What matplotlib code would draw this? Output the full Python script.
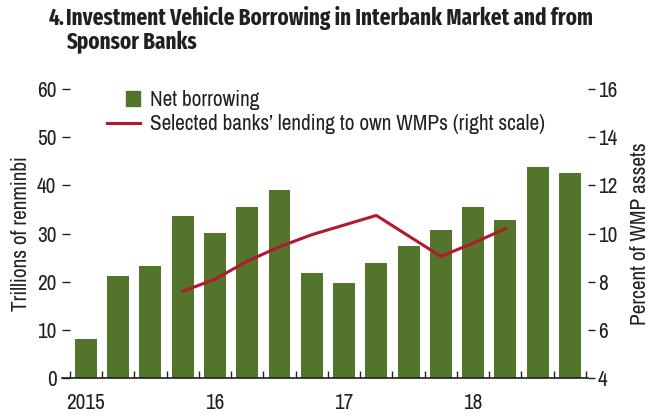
import numpy as np
import matplotlib
matplotlib.use("Agg")
import matplotlib.pyplot as plt
import matplotlib.patches as mpatches
from matplotlib.lines import Line2D
from matplotlib.legend_handler import HandlerPatch

# quarterly data, 2015Q1 - 2018Q4
quarters = ["2015Q1", "2015Q2", "2015Q3", "2015Q4",
            "2016Q1", "2016Q2", "2016Q3", "2016Q4",
            "2017Q1", "2017Q2", "2017Q3", "2017Q4",
            "2018Q1", "2018Q2", "2018Q3", "2018Q4"]
net_borrowing = [8.1, 21.2, 23.3, 33.7, 30.1, 35.5, 39.1, 21.8,
                 19.8, 23.9, 27.4, 30.8, 35.5, 32.8, 43.9, 42.6]
# right scale, percent of WMP assets (starts 2015Q4, ends 2018Q2)
lending_own_wmp = [np.nan, np.nan, np.nan, 7.6, 8.1, 8.85, 9.45, 9.95,
                   10.35, 10.75, 9.9, 9.05, 9.6, 10.2, np.nan, np.nan]
year_labels = ["2015", "16", "17", "18"]
year_pos = [0, 4, 8, 12]

plt.rcParams['font.family'] = ['Archivo Narrow', 'DejaVu Sans']
title_font = ['Fira Sans Extra Condensed', 'DejaVu Sans']
txt = "#231F20"
green = "#52742B"
red = "#B3192E"
fs = 15.3

fig = plt.figure(figsize=(6.56, 4.16), dpi=100)
ax = fig.add_axes([0.0945, 0.0913, 0.8018, 0.6948])
ax2 = ax.twinx()

x = np.arange(len(quarters))
ax.bar(x, net_borrowing, width=0.68, color=green, zorder=2)
ax2.plot(x, lending_own_wmp, color=red, lw=2.2, zorder=3)

ax.set_xlim(-0.74, 15.56)
ax.set_ylim(0, 60)
ax2.set_ylim(4, 16)
ax.set_yticks(range(0, 61, 10))
ax2.set_yticks(range(4, 17, 2))

for a in (ax, ax2):
    for s in ("top", "left", "right"):
        a.spines[s].set_visible(False)
ax2.spines["bottom"].set_visible(False)
ax.spines["bottom"].set_color(txt)
ax.spines["bottom"].set_linewidth(1.2)

ax.set_xticks(year_pos)
ax.set_xticklabels(year_labels)
ax.set_xticks(np.arange(-0.5, 16, 1), minor=True)
ax.tick_params(axis="x", which="major", length=0, pad=11, labelsize=fs, labelcolor=txt)
ax.tick_params(axis="x", which="minor", direction="in", length=5, width=1, color=txt)
ax.tick_params(axis="y", direction="in", length=6, width=1, pad=4, labelsize=fs,
               labelcolor=txt, color=txt)
ax2.tick_params(axis="y", direction="out", length=5, width=1, pad=2, labelsize=fs,
                labelcolor=txt, color=txt)

ax.set_ylabel("Trillions of renminbi", fontsize=fs, color=txt, labelpad=4)
ax2.set_ylabel("Percent of WMP assets", fontsize=fs, color=txt, labelpad=9)


def square_patch(legend, orig_handle, xdescent, ydescent, width, height, fontsize):
    s = height * 0.95
    return mpatches.Rectangle((-xdescent + width - s, -ydescent + (height - s) / 2), s, s)


handles = [mpatches.Patch(color=green),
           Line2D([], [], color=red, lw=2.2)]
labels = ["Net borrowing", "Selected banks\u2019 lending to own WMPs (right scale)"]
leg = ax.legend(handles, labels, loc="upper left", bbox_to_anchor=(107 / 656, 1 - 90 / 416),
                bbox_transform=fig.transFigure, frameon=False, fontsize=fs,
                handlelength=1.55, handletextpad=0.47, labelspacing=0.2, borderpad=0,
                borderaxespad=0, handler_map={mpatches.Patch: HandlerPatch(patch_func=square_patch)})
for t in leg.get_texts():
    t.set_color(txt)

tfs = 16.5
fig.text(49 / 656, 1 - 18 / 416, "4.", fontsize=tfs, fontweight="bold", color=txt,
         va="center", family=title_font)
fig.text(66 / 656, 1 - 18 / 416, "Investment Vehicle Borrowing in Interbank Market and from",
         fontsize=tfs, fontweight="bold", color=txt, va="center", family=title_font)
fig.text(66 / 656, 1 - 42 / 416, "Sponsor Banks",
         fontsize=tfs, fontweight="bold", color=txt, va="center", family=title_font)

fig.savefig("out.png", dpi=100)
